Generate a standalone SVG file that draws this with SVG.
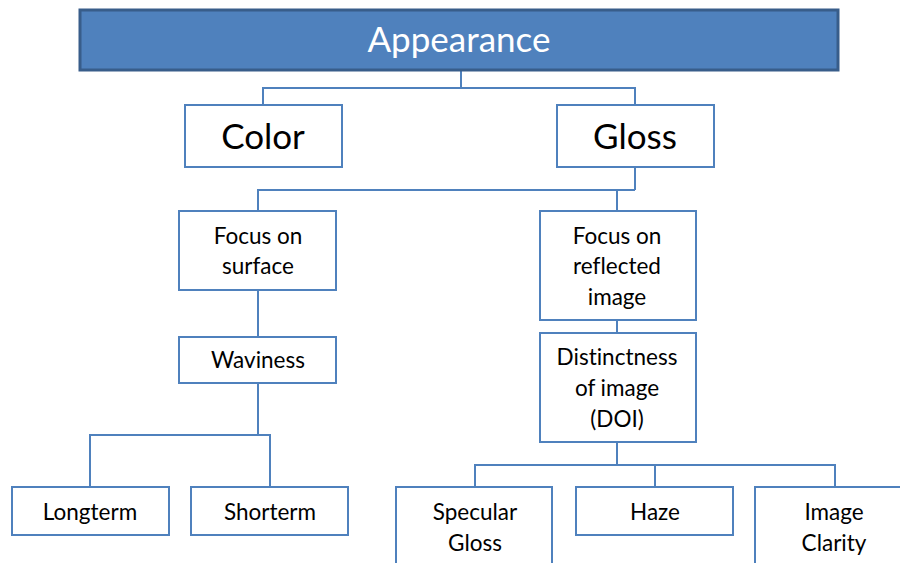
<svg xmlns="http://www.w3.org/2000/svg" width="900" height="563" viewBox="0 0 900 563">
<style>
.box{fill:#ffffff;stroke:#4f81bd;stroke-width:2}
.top{fill:#4f81bd;stroke:#385d8a;stroke-width:3}
.t{font-family:Lato,"Open Sans","Liberation Sans",sans-serif;fill:#000;text-anchor:middle;font-variant-ligatures:none}
.s{font-size:22.5px}
.b{font-size:35px}
.w{fill:#ffffff}
.c{fill:none;stroke:#4f81bd;stroke-width:2}
</style>
<rect width="900" height="563" fill="#ffffff"/>
<g id="connectors">
<path class="c" d="M461 70V88M263 105V88H635V105"/>
<path class="c" d="M635 167V190M258 211V190H635M617 190V211"/>
<path class="c" d="M258 290V337"/>
<path class="c" d="M617 320V333"/>
<path class="c" d="M258 383V435M90 487V435H270V487"/>
<path class="c" d="M617 442V465M475 487V465H835V487M655 465V487"/>
</g>
<g id="appearance"><rect class="top" x="80" y="10" width="758" height="60"/><text class="t b w" x="459" y="52">Appearance</text></g>
<g id="color"><rect class="box" x="185" y="105" width="157" height="62"/><text class="t b" x="263" y="149">Color</text></g>
<g id="gloss"><rect class="box" x="557" y="105" width="157" height="62"/><text class="t b" x="635" y="149">Gloss</text></g>
<g id="focus-surface"><rect class="box" x="179" y="211" width="157" height="79"/><text class="t s" x="258" y="244">Focus on</text><text class="t s" x="258" y="274">surface</text></g>
<g id="focus-reflected"><rect class="box" x="540" y="211" width="156" height="109"/><text class="t s" x="617" y="244">Focus on</text><text class="t s" x="617" y="274">reflected</text><text class="t s" x="617" y="305">image</text></g>
<g id="waviness"><rect class="box" x="179" y="337" width="157" height="46"/><text class="t s" x="258" y="368">Waviness</text></g>
<g id="doi"><rect class="box" x="540" y="333" width="156" height="109"/><text class="t s" x="617" y="365">Distinctness</text><text class="t s" x="617" y="396">of image</text><text class="t s" x="617" y="427">(DOI)</text></g>
<g id="longterm"><rect class="box" x="12" y="487" width="157" height="48"/><text class="t s" x="90" y="520">Longterm</text></g>
<g id="shorterm"><rect class="box" x="191" y="487" width="157" height="48"/><text class="t s" x="270" y="520">Shorterm</text></g>
<g id="specular"><rect class="box" x="396" y="487" width="156" height="82"/><text class="t s" x="475" y="520">Specular</text><text class="t s" x="475" y="551">Gloss</text></g>
<g id="haze"><rect class="box" x="576" y="487" width="157" height="48"/><text class="t s" x="655" y="520">Haze</text></g>
<g id="clarity"><rect class="box" x="755" y="487" width="157" height="82"/><text class="t s" x="834" y="520">Image</text><text class="t s" x="834" y="551">Clarity</text></g>
</svg>
